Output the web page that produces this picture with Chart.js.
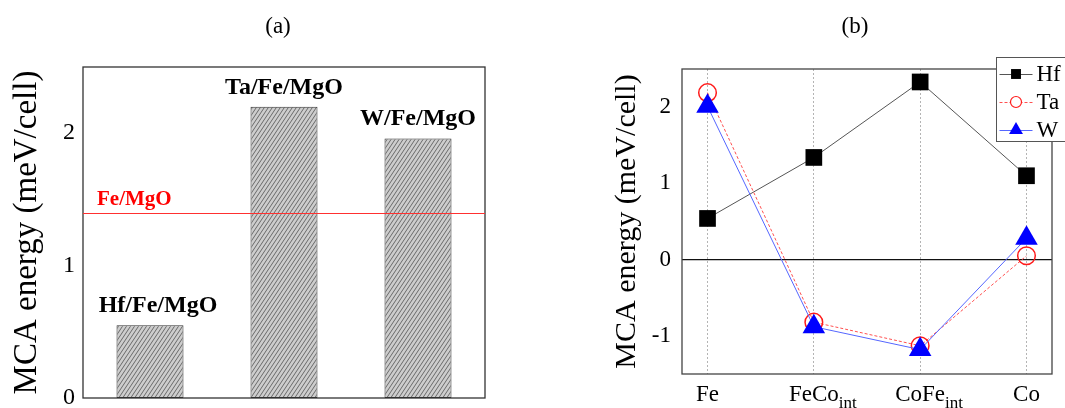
<!DOCTYPE html>
<html><head><meta charset="utf-8">
<script src="https://cdn.jsdelivr.net/npm/chart.js@4.4.1/dist/chart.umd.min.js"></script>
<style>
html,body{margin:0;padding:0;background:#fff;}
#wrap{position:relative;width:1065px;height:408px;overflow:hidden;background:#fff;}
#ca{position:absolute;left:0;top:0;}
#cb{position:absolute;left:530px;top:0;}
</style></head><body>
<div id="wrap"><canvas id="ca" width="530" height="408"></canvas><canvas id="cb" width="535" height="408"></canvas></div>
<script>
// ---------- data ----------
const panelTitles = ['(a)', '(b)'];
const yAxisTitle = 'MCA energy (meV/cell)';

const barCategories = ['Hf/Fe/MgO', 'Ta/Fe/MgO', 'W/Fe/MgO'];
const barValues = [0.55, 2.20, 1.96];
const feMgOLabel = 'Fe/MgO';
const feMgOValue = 1.40;
const barYTicks = [0, 1, 2];

const interfaceCategories = ['Fe', 'FeCo', 'CoFe', 'Co'];
const interfaceSubscripts = ['', 'int', 'int', ''];
const seriesNames = ['Hf', 'Ta', 'W'];
const hfValues = [0.54, 1.34, 2.33, 1.10];
const taValues = [2.19, -0.82, -1.13, 0.05];
const wValues = [2.01, -0.88, -1.18, 0.28];
const lineYTicks = [-1, 0, 1, 2];

// ---------- common ----------
const SERIF = "'Liberation Serif', 'Times New Roman', serif";
Chart.defaults.font.family = SERIF;
Chart.defaults.color = '#000';

function makeHatch(targetCtx) {
  const c = document.createElement('canvas');
  c.width = 4; c.height = 6;
  const g = c.getContext('2d');
  g.fillStyle = '#cdcdcd';
  g.fillRect(0, 0, 4, 6);
  g.strokeStyle = '#505050';
  g.lineWidth = 0.8;
  for (const dx of [-4, 0, 4]) {
    g.beginPath(); g.moveTo(dx, 6); g.lineTo(dx + 4, 0); g.stroke();
  }
  return targetCtx.createPattern(c, 'repeat');
}

const framePlugin = {
  id: 'frame',
  afterDatasetsDraw(chart, args, opts) {
    const { ctx, chartArea: a } = chart;
    ctx.save();
    ctx.strokeStyle = opts.color || '#333';
    ctx.lineWidth = opts.width || 1.3;
    ctx.strokeRect(a.left, a.top, a.right - a.left, a.bottom - a.top);
    ctx.restore();
  }
};

const panelTitlePlugin = {
  id: 'panelTitle',
  afterDraw(chart, args, opts) {
    const ctx = chart.ctx;
    ctx.save();
    ctx.font = '23px ' + SERIF;
    ctx.fillStyle = '#000';
    ctx.textAlign = 'center';
    ctx.textBaseline = 'middle';
    ctx.fillText(opts.text, opts.x, opts.y);
    ctx.restore();
  }
};

// ---------- panel (a) ----------
const ctxA = document.getElementById('ca').getContext('2d');
const hatch = makeHatch(ctxA);

const barAnnotPlugin = {
  id: 'barAnnot',
  afterDatasetsDraw(chart) {
    const { ctx, chartArea: a, scales } = chart;
    const yLine = scales.y.getPixelForValue(feMgOValue);
    ctx.save();
    ctx.strokeStyle = '#ff3030';
    ctx.lineWidth = 1;
    ctx.beginPath();
    ctx.moveTo(a.left, Math.round(yLine) + 0.5);
    ctx.lineTo(a.right, Math.round(yLine) + 0.5);
    ctx.stroke();
    ctx.fillStyle = '#f00';
    ctx.font = 'bold 21px ' + SERIF;
    ctx.textAlign = 'left';
    ctx.textBaseline = 'alphabetic';
    ctx.fillText(feMgOLabel, a.left + 14, yLine - 8);
    ctx.fillStyle = '#000';
    ctx.font = 'bold 24px ' + SERIF;
    ctx.textAlign = 'center';
    const meta = chart.getDatasetMeta(0);
    meta.data.forEach((bar, i) => {
      const dx = i === 0 ? 8 : 0;
      ctx.fillText(barCategories[i], bar.x + dx, bar.y - 13);
    });
    ctx.restore();
  }
};

new Chart(ctxA, {
  type: 'bar',
  data: {
    labels: barCategories,
    datasets: [{
      data: barValues,
      backgroundColor: hatch,
      borderColor: '#333',
      borderWidth: 1,
      borderSkipped: false,
      categoryPercentage: 1,
      barPercentage: 0.5
    }]
  },
  options: {
    responsive: false,
    animation: false,
    devicePixelRatio: 1,
    layout: { padding: { left: 0, top: 67, right: 45, bottom: 0 } },
    plugins: {
      legend: { display: false },
      tooltip: { enabled: false },
      title: { display: false },
      frame: { color: '#333', width: 1.3 },
      panelTitle: { text: panelTitles[0], x: 278, y: 27 }
    },
    scales: {
      x: {
        ticks: { display: false },
        grid: { display: false, drawTicks: false },
        border: { display: false },
        afterFit(s) { s.height = 10; }
      },
      y: {
        min: 0, max: 2.5,
        afterBuildTicks(s) { s.ticks = barYTicks.map(v => ({ value: v })); },
        ticks: { font: { size: 24, lineHeight: 0.1 }, color: '#000', padding: 8 },
        grid: { display: false, drawTicks: false },
        border: { display: false },
        title: { display: true, text: yAxisTitle, font: { size: 33 }, color: '#000', padding: { top: 8, bottom: 0 } },
        afterFit(s) { s.width = 83; }
      }
    }
  },
  plugins: [framePlugin, barAnnotPlugin, panelTitlePlugin]
});

// ---------- panel (b) ----------
const ctxB = document.getElementById('cb').getContext('2d');

const seriesStyles = [
  { line: '#555', dash: [], style: 'rect', radius: 11.8, fill: '#000', stroke: '#000', bw: 0, order: 2, lr: 7 },
  { line: '#ff5050', dash: [3, 2], style: 'circle', radius: 8.8, fill: 'rgba(255,255,255,0)', stroke: '#ff1a1a', bw: 1.5, order: 1, lr: 5.5 },
  { line: '#5566ff', dash: [], style: 'triangle', radius: 13, fill: '#0000ff', stroke: '#0000ff', bw: 0, order: 0, lr: 8 }
];
const seriesValues = [hfValues, taValues, wValues];

const xLabelPlugin = {
  id: 'xLabels',
  afterDraw(chart) {
    const { ctx, chartArea: a, scales } = chart;
    ctx.save();
    ctx.fillStyle = '#000';
    ctx.textBaseline = 'alphabetic';
    interfaceCategories.forEach((lab, i) => {
      const x = scales.x.getPixelForValue(i);
      ctx.font = '23px ' + SERIF;
      const w = ctx.measureText(lab).width;
      ctx.textAlign = 'center';
      ctx.fillText(lab, x, a.bottom + 27);
      if (interfaceSubscripts[i]) {
        ctx.font = '17px ' + SERIF;
        ctx.textAlign = 'left';
        ctx.fillText(interfaceSubscripts[i], x + w / 2, a.bottom + 34);
      }
    });
    ctx.restore();
  }
};

function markerPath(ctx, style, x, y, r) {
  ctx.beginPath();
  if (style === 'rect') {
    const s = r * Math.SQRT1_2;
    ctx.rect(x - s, y - s, 2 * s, 2 * s);
  } else if (style === 'circle') {
    ctx.arc(x, y, r, 0, Math.PI * 2);
  } else {
    ctx.moveTo(x, y - r);
    ctx.lineTo(x + r * Math.sin(Math.PI / 3), y + r / 2);
    ctx.lineTo(x - r * Math.sin(Math.PI / 3), y + r / 2);
    ctx.closePath();
  }
}

const legendPlugin = {
  id: 'customLegend',
  afterDraw(chart) {
    const ctx = chart.ctx;
    const left = 466.5, top = 57.5, bottom = 141.5;
    ctx.save();
    ctx.fillStyle = '#fff';
    ctx.fillRect(left, top, 100, bottom - top);
    ctx.strokeStyle = '#555';
    ctx.lineWidth = 1;
    ctx.strokeRect(left, top, 100, bottom - top);
    const rows = [74, 102, 130];
    seriesNames.forEach((name, i) => {
      const st = seriesStyles[i];
      const y = rows[i];
      ctx.strokeStyle = st.line;
      ctx.lineWidth = 1;
      ctx.setLineDash(st.dash);
      ctx.beginPath();
      ctx.moveTo(left + 3, y + 0.5);
      ctx.lineTo(left + 36, y + 0.5);
      ctx.stroke();
      ctx.setLineDash([]);
      markerPath(ctx, st.style, left + 19.5, y, st.lr);
      if (st.bw > 0) {
        ctx.fillStyle = '#fff';
        ctx.fill();
        ctx.strokeStyle = st.stroke;
        ctx.lineWidth = 1.2;
        ctx.stroke();
      } else {
        ctx.fillStyle = st.fill;
        ctx.fill();
      }
      ctx.fillStyle = '#000';
      ctx.font = '23px ' + SERIF;
      ctx.textAlign = 'left';
      ctx.textBaseline = 'middle';
      ctx.fillText(name, left + 40, y + 1);
    });
    ctx.restore();
  }
};

new Chart(ctxB, {
  type: 'line',
  data: {
    datasets: seriesNames.map((name, k) => ({
      label: name,
      data: seriesValues[k].map((v, i) => ({ x: i, y: v })),
      borderColor: seriesStyles[k].line,
      borderDash: seriesStyles[k].dash,
      borderWidth: 1,
      pointStyle: seriesStyles[k].style,
      pointRadius: seriesStyles[k].radius,
      pointBackgroundColor: seriesStyles[k].fill,
      pointBorderColor: seriesStyles[k].stroke,
      pointBorderWidth: seriesStyles[k].bw,
      fill: false,
      tension: 0,
      clip: false,
      order: seriesStyles[k].order
    }))
  },
  options: {
    responsive: false,
    animation: false,
    devicePixelRatio: 1,
    layout: { padding: { left: 0, top: 69, right: 9, bottom: 0 } },
    plugins: {
      legend: { display: false },
      tooltip: { enabled: false },
      title: { display: false },
      frame: { color: '#444', width: 1.3 },
      panelTitle: { text: panelTitles[1], x: 325, y: 27 }
    },
    scales: {
      x: {
        type: 'linear',
        min: -0.24, max: 3.24,
        afterBuildTicks(s) { s.ticks = interfaceCategories.map((_, i) => ({ value: i })); },
        ticks: { display: false },
        grid: { color: '#b4b4b4', lineWidth: 1, drawTicks: false },
        border: { display: false, dash: [2, 2] },
        afterFit(s) { s.height = 34; }
      },
      y: {
        min: -1.5, max: 2.5,
        afterBuildTicks(s) { s.ticks = lineYTicks.map(v => ({ value: v })); },
        ticks: { font: { size: 23, lineHeight: 0.8 }, color: '#000', padding: 11 },
        grid: {
          drawTicks: false,
          lineWidth: 1.3,
          color: c => (c.tick && c.tick.value === 0) ? '#111' : 'rgba(0,0,0,0)'
        },
        border: { display: false },
        title: { display: true, text: yAxisTitle, font: { size: 30 }, color: '#000', padding: { top: 79, bottom: 0 } },
        afterFit(s) { s.width = 152; }
      }
    }
  },
  plugins: [framePlugin, xLabelPlugin, legendPlugin, panelTitlePlugin]
});
</script>
</body></html>
